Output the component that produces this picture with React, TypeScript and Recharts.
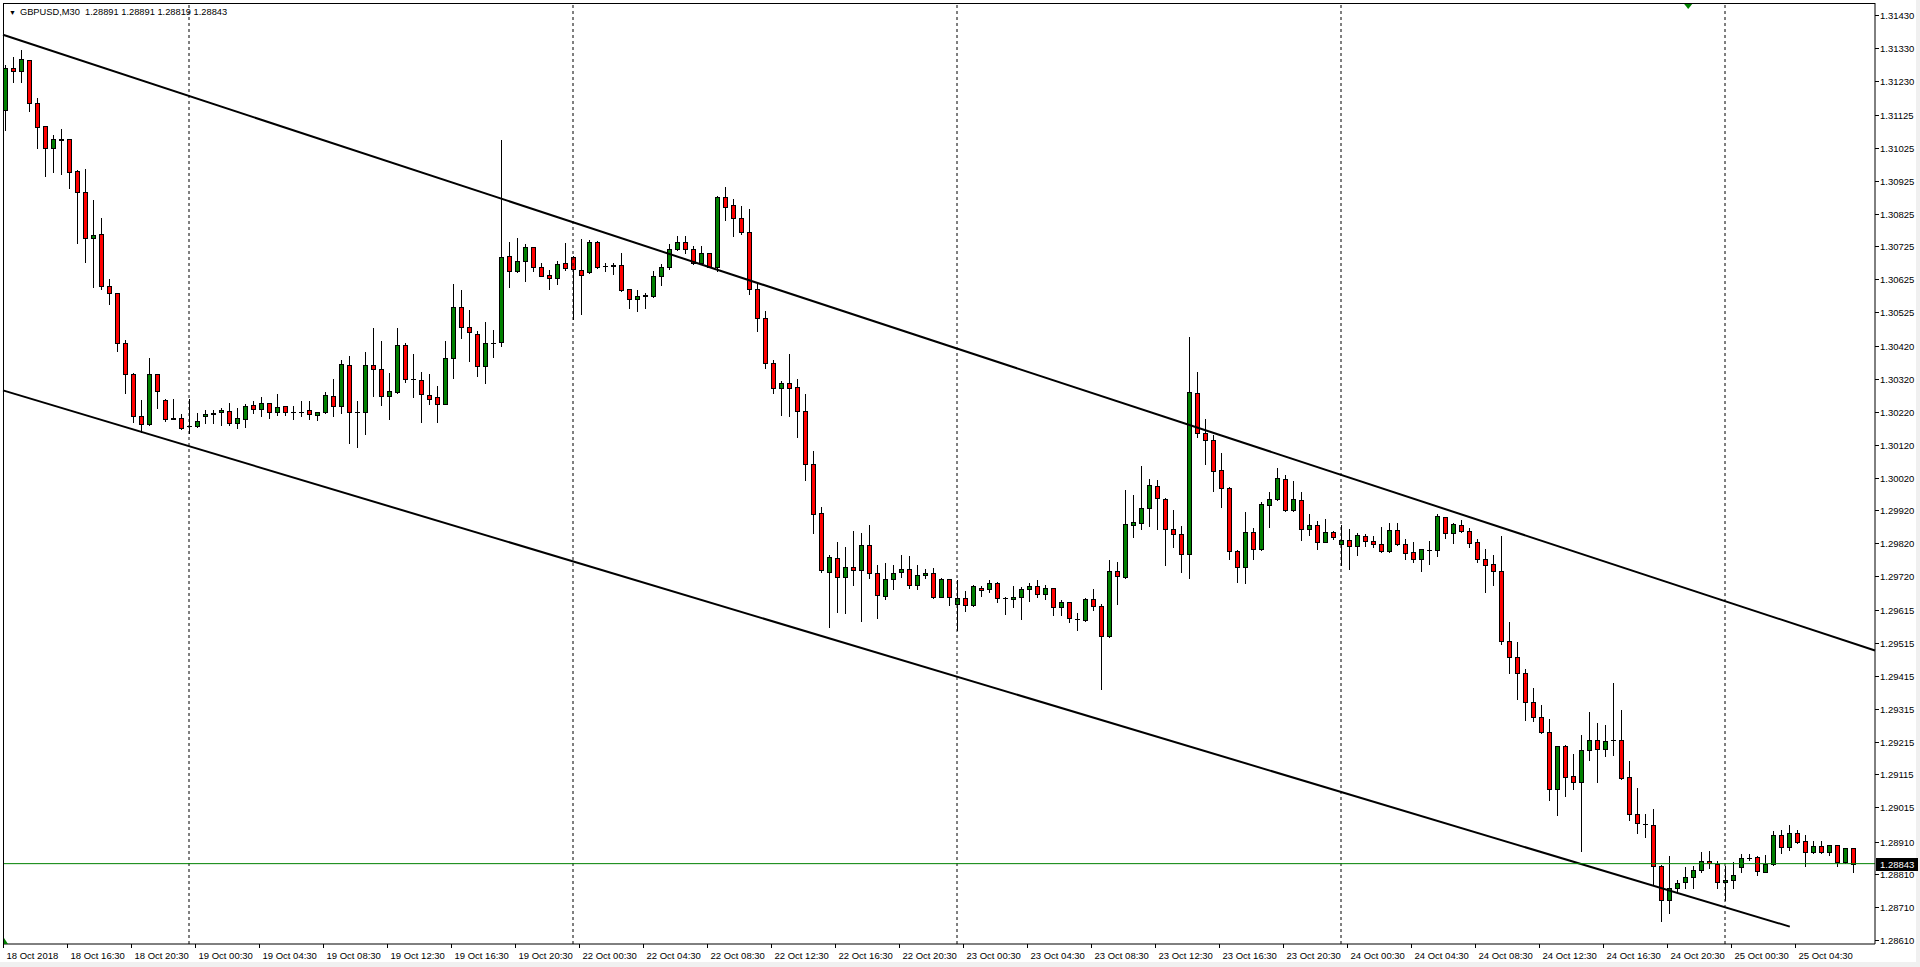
import React from 'react';
import { ComposedChart, Bar, XAxis, YAxis, ReferenceLine, ReferenceDot } from 'recharts';

const opens = [
  1.31140, 1.31268, 1.31260, 1.31292, 1.31161, 1.31091, 1.31024, 1.31051, 1.31051, 1.30954,
  1.30891, 1.30752, 1.30764, 1.30604, 1.30582, 1.30429, 1.30335, 1.30207, 1.30182, 1.30335,
  1.30256, 1.30203, 1.30203, 1.30178, 1.30178, 1.30207, 1.30216, 1.30219, 1.30223, 1.30185,
  1.30200, 1.30241, 1.30228, 1.30246, 1.30221, 1.30238, 1.30221, 1.30221, 1.30226, 1.30211,
  1.30219, 1.30268, 1.30239, 1.30362, 1.30221, 1.30221, 1.30362, 1.30350, 1.30269, 1.30282,
  1.30423, 1.30321, 1.30319, 1.30271, 1.30265, 1.30245, 1.30386, 1.30539, 1.30478, 1.30457,
  1.30359, 1.30431, 1.30432, 1.30697, 1.30651, 1.30679, 1.30722, 1.30661, 1.30637, 1.30630,
  1.30673, 1.30694, 1.30652, 1.30647, 1.30737, 1.30666, 1.30664, 1.30667, 1.30594, 1.30566,
  1.30573, 1.30574, 1.30636, 1.30663, 1.30716, 1.30738, 1.30716, 1.30673, 1.30704, 1.30663,
  1.30874, 1.30850, 1.30813, 1.30770, 1.30594, 1.30508, 1.30368, 1.30292, 1.30307, 1.30295,
  1.30222, 1.30060, 1.29911, 1.29733, 1.29774, 1.29718, 1.29746, 1.29738, 1.29814, 1.29728,
  1.29660, 1.29710, 1.29731, 1.29741, 1.29694, 1.29723, 1.29728, 1.29657, 1.29711, 1.29636,
  1.29652, 1.29631, 1.29682, 1.29679, 1.29700, 1.29654, 1.29649, 1.29655, 1.29679, 1.29689,
  1.29664, 1.29683, 1.29624, 1.29640, 1.29589, 1.29587, 1.29650, 1.29627, 1.29536, 1.29735,
  1.29717, 1.29877, 1.29883, 1.29926, 1.29994, 1.29956, 1.29862, 1.29847, 1.29786, 1.30277,
  1.30155, 1.30136, 1.30042, 1.29987, 1.29796, 1.29746, 1.29853, 1.29801, 1.29935, 1.29956,
  1.30015, 1.29920, 1.29953, 1.29862, 1.29877, 1.29825, 1.29853, 1.29819, 1.29831, 1.29810,
  1.29841, 1.29828, 1.29819, 1.29795, 1.29859, 1.29819, 1.29792, 1.29771, 1.29800, 1.29800,
  1.29899, 1.29850, 1.29877, 1.29856, 1.29823, 1.29771, 1.29757, 1.29734, 1.29522, 1.29472,
  1.29423, 1.29335, 1.29289, 1.29243, 1.29072, 1.29203, 1.29110, 1.29091, 1.29191, 1.29219,
  1.29194, 1.29220, 1.29220, 1.29106, 1.28993, 1.28963, 1.28960, 1.28835, 1.28732, 1.28768,
  1.28786, 1.28801, 1.28823, 1.28851, 1.28841, 1.28787, 1.28793, 1.28832, 1.28861, 1.28862,
  1.28818, 1.28841, 1.28930, 1.28894, 1.28935, 1.28912, 1.28877, 1.28897, 1.28877, 1.28899,
  1.28847, 1.28891,
];

const highs = [
  1.31278, 1.31303, 1.31323, 1.31292, 1.31176, 1.31093, 1.31066, 1.31082, 1.31052, 1.30957,
  1.30960, 1.30866, 1.30813, 1.30627, 1.30584, 1.30441, 1.30338, 1.30256, 1.30386, 1.30336,
  1.30261, 1.30259, 1.30213, 1.30261, 1.30216, 1.30226, 1.30226, 1.30231, 1.30248, 1.30231,
  1.30243, 1.30253, 1.30266, 1.30247, 1.30274, 1.30239, 1.30238, 1.30253, 1.30253, 1.30220,
  1.30282, 1.30322, 1.30378, 1.30390, 1.30253, 1.30402, 1.30475, 1.30436, 1.30338, 1.30475,
  1.30429, 1.30396, 1.30341, 1.30336, 1.30299, 1.30436, 1.30610, 1.30592, 1.30531, 1.30467,
  1.30494, 1.30470, 1.31049, 1.30737, 1.30752, 1.30731, 1.30723, 1.30673, 1.30653, 1.30680,
  1.30735, 1.30695, 1.30747, 1.30744, 1.30742, 1.30673, 1.30673, 1.30704, 1.30595, 1.30591,
  1.30584, 1.30650, 1.30670, 1.30732, 1.30756, 1.30756, 1.30726, 1.30726, 1.30705, 1.30878,
  1.30907, 1.30869, 1.30848, 1.30838, 1.30612, 1.30528, 1.30378, 1.30315, 1.30397, 1.30320,
  1.30275, 1.30101, 1.29929, 1.29784, 1.29824, 1.29809, 1.29857, 1.29852, 1.29875, 1.29755,
  1.29761, 1.29753, 1.29784, 1.29781, 1.29753, 1.29741, 1.29745, 1.29714, 1.29712, 1.29707,
  1.29674, 1.29694, 1.29689, 1.29707, 1.29701, 1.29656, 1.29689, 1.29687, 1.29700, 1.29707,
  1.29694, 1.29684, 1.29647, 1.29642, 1.29608, 1.29652, 1.29680, 1.29634, 1.29768, 1.29762,
  1.29982, 1.29967, 1.30055, 1.30015, 1.30012, 1.29957, 1.29921, 1.29872, 1.30449, 1.30341,
  1.30198, 1.30150, 1.30094, 1.29992, 1.29799, 1.29914, 1.29865, 1.29946, 1.29975, 1.30048,
  1.30028, 1.30009, 1.29975, 1.29908, 1.29887, 1.29893, 1.29857, 1.29877, 1.29863, 1.29850,
  1.29848, 1.29842, 1.29869, 1.29881, 1.29882, 1.29832, 1.29823, 1.29802, 1.29826, 1.29909,
  1.29900, 1.29881, 1.29892, 1.29865, 1.29832, 1.29801, 1.29784, 1.29841, 1.29579, 1.29518,
  1.29435, 1.29377, 1.29326, 1.29283, 1.29202, 1.29204, 1.29177, 1.29235, 1.29304, 1.29271,
  1.29266, 1.29393, 1.29311, 1.29156, 1.29074, 1.28993, 1.29011, 1.28839, 1.28866, 1.28793,
  1.28832, 1.28836, 1.28879, 1.28881, 1.28851, 1.28835, 1.28849, 1.28872, 1.28872, 1.28866,
  1.28869, 1.28943, 1.28945, 1.28961, 1.28945, 1.28930, 1.28912, 1.28912, 1.28901, 1.28900,
  1.28892, 1.28891,
];

const lows = [
  1.31079, 1.31227, 1.31227, 1.31138, 1.31025, 1.30940, 1.30952, 1.30947, 1.30904, 1.30734,
  1.30678, 1.30600, 1.30594, 1.30549, 1.30407, 1.30277, 1.30190, 1.30160, 1.30181, 1.30231,
  1.30193, 1.30198, 1.30167, 1.30155, 1.30175, 1.30187, 1.30187, 1.30180, 1.30180, 1.30170,
  1.30175, 1.30218, 1.30207, 1.30203, 1.30211, 1.30211, 1.30200, 1.30207, 1.30200, 1.30197,
  1.30218, 1.30208, 1.30218, 1.30126, 1.30114, 1.30152, 1.30269, 1.30241, 1.30198, 1.30279,
  1.30312, 1.30266, 1.30190, 1.30245, 1.30190, 1.30243, 1.30324, 1.30446, 1.30376, 1.30330,
  1.30307, 1.30388, 1.30422, 1.30602, 1.30647, 1.30619, 1.30650, 1.30634, 1.30596, 1.30611,
  1.30652, 1.30505, 1.30519, 1.30644, 1.30660, 1.30650, 1.30641, 1.30590, 1.30538, 1.30529,
  1.30538, 1.30571, 1.30607, 1.30657, 1.30714, 1.30704, 1.30671, 1.30671, 1.30661, 1.30650,
  1.30805, 1.30757, 1.30764, 1.30579, 1.30468, 1.30355, 1.30277, 1.30211, 1.30208, 1.30144,
  1.30012, 1.29850, 1.29731, 1.29563, 1.29611, 1.29608, 1.29694, 1.29583, 1.29713, 1.29591,
  1.29649, 1.29679, 1.29716, 1.29684, 1.29679, 1.29713, 1.29654, 1.29656, 1.29633, 1.29555,
  1.29614, 1.29629, 1.29660, 1.29672, 1.29641, 1.29604, 1.29626, 1.29590, 1.29644, 1.29655,
  1.29650, 1.29601, 1.29601, 1.29579, 1.29556, 1.29583, 1.29617, 1.29374, 1.29535, 1.29634,
  1.29714, 1.29840, 1.29864, 1.29873, 1.29863, 1.29754, 1.29809, 1.29733, 1.29714, 1.30144,
  1.30061, 1.29980, 1.29931, 1.29772, 1.29702, 1.29699, 1.29772, 1.29799, 1.29870, 1.29953,
  1.29919, 1.29919, 1.29829, 1.29844, 1.29801, 1.29824, 1.29832, 1.29755, 1.29742, 1.29784,
  1.29811, 1.29809, 1.29794, 1.29794, 1.29815, 1.29772, 1.29763, 1.29736, 1.29757, 1.29782,
  1.29836, 1.29821, 1.29855, 1.29808, 1.29763, 1.29671, 1.29692, 1.29513, 1.29425, 1.29345,
  1.29281, 1.29279, 1.29240, 1.29037, 1.28991, 1.29050, 1.29070, 1.28882, 1.29159, 1.29093,
  1.29172, 1.29174, 1.29100, 1.28976, 1.28935, 1.28923, 1.28781, 1.28669, 1.28693, 1.28757,
  1.28768, 1.28770, 1.28818, 1.28829, 1.28768, 1.28732, 1.28768, 1.28818, 1.28854, 1.28808,
  1.28816, 1.28840, 1.28876, 1.28886, 1.28905, 1.28836, 1.28874, 1.28874, 1.28869, 1.28836,
  1.28845, 1.28819,
];

const closes = [
  1.31268, 1.31260, 1.31295, 1.31161, 1.31089, 1.31024, 1.31051, 1.31050, 1.30952, 1.30891,
  1.30752, 1.30761, 1.30604, 1.30582, 1.30429, 1.30335, 1.30207, 1.30182, 1.30335, 1.30284,
  1.30200, 1.30199, 1.30170, 1.30178, 1.30193, 1.30213, 1.30215, 1.30226, 1.30185, 1.30203,
  1.30238, 1.30228, 1.30246, 1.30221, 1.30234, 1.30219, 1.30221, 1.30221, 1.30213, 1.30219,
  1.30272, 1.30238, 1.30365, 1.30219, 1.30221, 1.30362, 1.30350, 1.30269, 1.30284, 1.30423,
  1.30322, 1.30321, 1.30274, 1.30261, 1.30243, 1.30386, 1.30539, 1.30478, 1.30463, 1.30361,
  1.30429, 1.30431, 1.30694, 1.30650, 1.30679, 1.30722, 1.30661, 1.30636, 1.30630, 1.30672,
  1.30658, 1.30655, 1.30639, 1.30737, 1.30663, 1.30666, 1.30668, 1.30593, 1.30566, 1.30573,
  1.30577, 1.30636, 1.30663, 1.30716, 1.30738, 1.30716, 1.30673, 1.30704, 1.30663, 1.30874,
  1.30846, 1.30812, 1.30769, 1.30594, 1.30508, 1.30368, 1.30292, 1.30307, 1.30294, 1.30222,
  1.30060, 1.29908, 1.29738, 1.29779, 1.29716, 1.29746, 1.29738, 1.29814, 1.29728, 1.29662,
  1.29710, 1.29728, 1.29741, 1.29694, 1.29723, 1.29729, 1.29657, 1.29711, 1.29655, 1.29652,
  1.29633, 1.29689, 1.29677, 1.29700, 1.29652, 1.29654, 1.29657, 1.29680, 1.29689, 1.29665,
  1.29683, 1.29624, 1.29640, 1.29591, 1.29589, 1.29650, 1.29627, 1.29536, 1.29735, 1.29720,
  1.29880, 1.29884, 1.29926, 1.29996, 1.29958, 1.29862, 1.29847, 1.29786, 1.30280, 1.30155,
  1.30136, 1.30041, 1.29987, 1.29796, 1.29746, 1.29853, 1.29801, 1.29938, 1.29956, 1.30018,
  1.29920, 1.29956, 1.29862, 1.29877, 1.29825, 1.29853, 1.29838, 1.29831, 1.29810, 1.29844,
  1.29828, 1.29819, 1.29795, 1.29859, 1.29818, 1.29789, 1.29771, 1.29801, 1.29800, 1.29902,
  1.29850, 1.29880, 1.29856, 1.29822, 1.29771, 1.29755, 1.29734, 1.29522, 1.29474, 1.29423,
  1.29335, 1.29289, 1.29245, 1.29072, 1.29201, 1.29108, 1.29091, 1.29191, 1.29219, 1.29194,
  1.29216, 1.29220, 1.29105, 1.28994, 1.28966, 1.28963, 1.28836, 1.28732, 1.28768, 1.28783,
  1.28801, 1.28823, 1.28851, 1.28844, 1.28787, 1.28794, 1.28808, 1.28859, 1.28861, 1.28821,
  1.28841, 1.28930, 1.28894, 1.28935, 1.28910, 1.28877, 1.28897, 1.28877, 1.28899, 1.28847,
  1.28890, 1.28843,
];

const timeTickIdx = [0, 8, 16, 24, 32, 40, 48, 56, 64, 72, 80, 88, 96, 104, 112, 120, 128, 136, 144, 152, 160, 168, 176, 184, 192, 200, 208, 216, 224];
const timeLabels = [
  '18 Oct 2018', '18 Oct 16:30', '18 Oct 20:30', '19 Oct 00:30', '19 Oct 04:30', '19 Oct 08:30',
  '19 Oct 12:30', '19 Oct 16:30', '19 Oct 20:30', '22 Oct 00:30', '22 Oct 04:30', '22 Oct 08:30',
  '22 Oct 12:30', '22 Oct 16:30', '22 Oct 20:30', '23 Oct 00:30', '23 Oct 04:30', '23 Oct 08:30',
  '23 Oct 12:30', '23 Oct 16:30', '23 Oct 20:30', '24 Oct 00:30', '24 Oct 04:30', '24 Oct 08:30',
  '24 Oct 12:30', '24 Oct 16:30', '24 Oct 20:30', '25 Oct 00:30', '25 Oct 04:30',
];

const priceTicks = [
  1.31430, 1.31330, 1.31230, 1.31125, 1.31025, 1.30925, 1.30825, 1.30725, 1.30625, 1.30525,
  1.30420, 1.30320, 1.30220, 1.30120, 1.30020, 1.29920, 1.29820, 1.29720, 1.29615, 1.29515,
  1.29415, 1.29315, 1.29215, 1.29115, 1.29015, 1.28910, 1.28810, 1.28710, 1.28610,
];

const daySeparators = [23, 71, 119, 167, 215];
const upperChannel = [{ i: -0.25, p: 1.31370 }, { i: 233.75, p: 1.29493 }];
const lowerChannel = [{ i: -0.25, p: 1.30286 }, { i: 223.1, p: 1.28651 }];
const bidPrice = 1.28843;
const xDomain = [-0.25, 233.75];
const yDomain = [1.28598, 1.31467];
const topMarkerIdx = 210.4;
const headerText = 'GBPUSD,M30  1.28891 1.28891 1.28819 1.28843';

const data = opens.map((o, i) => ({
  i,
  open: o,
  high: highs[i],
  low: lows[i],
  close: closes[i],
  range: [lows[i], highs[i]],
}));

const FONT = "'Liberation Sans', Arial, sans-serif";

const Candle = (props: any) => {
  const { x, y, width, height, payload } = props;
  if (!payload) return null;
  const { open, close, high, low } = payload;
  const cx = Math.round(x + width / 2) + 0.5;
  const span = high - low;
  const yOf = (v: number) => (span > 0 ? y + ((high - v) / span) * height : y);
  const top = Math.round(yOf(Math.max(open, close))) + 0.5;
  const bot = Math.round(yOf(Math.min(open, close))) + 0.5;
  const bull = close > open;
  const yTop = Math.round(y);
  const yBot = Math.round(y + height) + 1;
  return (
    <g>
      <line x1={cx} x2={cx} y1={yTop} y2={yBot} stroke="#000" strokeWidth={1} shapeRendering="crispEdges" />
      {bot - top < 1 ? (
        <line x1={cx - 2.5} x2={cx + 2.5} y1={top} y2={top} stroke="#000" strokeWidth={1} shapeRendering="crispEdges" />
      ) : (
        <rect
          x={cx - 2}
          y={top}
          width={4}
          height={bot - top}
          fill={bull ? '#008000' : '#ff0000'}
          stroke="#000"
          strokeWidth={1}
          shapeRendering="crispEdges"
        />
      )}
    </g>
  );
};

const TimeTick = (props: any) => {
  const { x, y, payload } = props;
  const k = timeTickIdx.indexOf(payload.value);
  const label = k >= 0 ? timeLabels[k] : '';
  const tx = Math.round(x) - 1.5;
  return (
    <g>
      <line x1={tx} x2={tx} y1={y} y2={y + 4} stroke="#000" strokeWidth={1} />
      <text x={tx + 3} y={y + 15} fontSize={9.5} fontFamily={FONT} fill="#000" textAnchor="start">
        {label}
      </text>
    </g>
  );
};

const PriceTick = (props: any) => {
  const { x, y, payload } = props;
  const ty = Math.round(y) + 0.5;
  return (
    <g>
      <line x1={x} x2={x + 4} y1={ty} y2={ty} stroke="#000" strokeWidth={1} />
      <text x={x + 5} y={ty + 3.5} fontSize={9.5} fontFamily={FONT} fill="#000" textAnchor="start">
        {payload.value.toFixed(5)}
      </text>
    </g>
  );
};

const BidLabel = (props: any) => {
  const { viewBox } = props;
  if (!viewBox) return null;
  const rx = viewBox.x + viewBox.width + 1;
  const ry = Math.round(viewBox.y) - 6;
  return (
    <g>
      <rect x={rx} y={ry} width={42} height={13} fill="#000" />
      <text x={rx + 4} y={ry + 10} fontSize={9.5} fontFamily={FONT} fill="#fff" textAnchor="start">
        {bidPrice.toFixed(5)}
      </text>
    </g>
  );
};

const TopMarker = (props: any) => {
  const { cx, cy } = props;
  if (cx == null || cy == null) return null;
  return <path d={`M${cx - 4},${cy + 1} L${cx + 4},${cy + 1} L${cx},${cy + 6} Z`} fill="#008000" />;
};

const CornerMarker = (props: any) => {
  const { cx, cy } = props;
  if (cx == null || cy == null) return null;
  return <path d={`M${cx + 1},${cy} L${cx + 1},${cy - 6} L${cx + 5},${cy} Z`} fill="#008000" />;
};

export default function App() {
  return (
    <div style={{ position: 'absolute', left: 0, top: 0, width: 1920, height: 967, background: '#f0f0f0' }}>
      <div style={{ position: 'absolute', left: 0, top: 0, width: 1916, height: 962, background: '#fff' }} />
      <div style={{ position: 'absolute', left: 0, top: 0 }}>
        <ComposedChart
          width={1920}
          height={967}
          data={data}
          margin={{ top: 3, left: 3, right: 0, bottom: 0 }}
        >
          <XAxis
            dataKey="i"
            type="number"
            domain={xDomain}
            allowDataOverflow
            ticks={timeTickIdx}
            interval={0}
            height={23}
            tickSize={0}
            tickMargin={0}
            axisLine={{ stroke: '#000' }}
            tickLine={false}
            tick={<TimeTick />}
          />
          <YAxis
            orientation="right"
            type="number"
            domain={yDomain}
            allowDataOverflow
            ticks={priceTicks}
            interval={0}
            width={45}
            tickSize={0}
            tickMargin={0}
            axisLine={{ stroke: '#000' }}
            tickLine={false}
            tick={<PriceTick />}
          />
          {daySeparators.map((d) => (
            <ReferenceLine key={d} x={d} stroke="#000" strokeWidth={1} strokeDasharray="3 3" ifOverflow="visible" />
          ))}
          <ReferenceLine
            segment={[{ x: upperChannel[0].i, y: upperChannel[0].p }, { x: upperChannel[1].i, y: upperChannel[1].p }]}
            stroke="#000"
            strokeWidth={2}
            ifOverflow="visible"
          />
          <ReferenceLine
            segment={[{ x: lowerChannel[0].i, y: lowerChannel[0].p }, { x: lowerChannel[1].i, y: lowerChannel[1].p }]}
            stroke="#000"
            strokeWidth={2}
            ifOverflow="visible"
          />
          <Bar dataKey="range" barSize={5} shape={<Candle />} isAnimationActive={false} />
          <ReferenceLine y={bidPrice} stroke="#008000" strokeWidth={1} ifOverflow="visible" label={<BidLabel />} />
          <ReferenceDot x={topMarkerIdx} y={yDomain[1]} ifOverflow="visible" shape={<TopMarker />} />
          <ReferenceDot x={xDomain[0]} y={yDomain[0]} ifOverflow="visible" shape={<CornerMarker />} />
        </ComposedChart>
      </div>
      <div
        style={{
          position: 'absolute',
          left: 3,
          top: 3,
          width: 1872,
          height: 941,
          borderTop: '1px solid #000',
          borderLeft: '1px solid #000',
          boxSizing: 'border-box',
          pointerEvents: 'none',
        }}
      />
      <div
        style={{
          position: 'absolute',
          left: 9,
          top: 6,
          fontFamily: FONT,
          fontSize: 9.3,
          color: '#000',
          whiteSpace: 'pre',
          lineHeight: '13px',
        }}
      >
        <span style={{ fontSize: 7, marginRight: 4 }}>▼</span>
        {headerText}
      </div>
    </div>
  );
}
